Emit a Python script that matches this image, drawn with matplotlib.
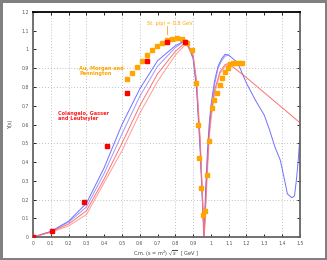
import numpy as np
from matplotlib import pyplot as plt

# Colangelo, Gasser and Leutwyler (red squares)
cgl_x = [0.0, 0.107, 0.287, 0.415, 0.53, 0.64, 0.753, 0.855]
cgl_y = [0.0, 0.03, 0.187, 0.485, 0.77, 0.94, 1.04, 1.04]

# Au, Morgan and Pennington (orange squares)
amp_x = [0.528, 0.556, 0.584, 0.612, 0.640, 0.669, 0.697, 0.725, 0.753, 0.781,
         0.809, 0.837, 0.865, 0.893, 0.916, 0.928, 0.935, 0.945, 0.955,
         0.968, 0.978, 0.989, 1.006, 1.02, 1.035, 1.05, 1.065, 1.08, 1.095,
         1.11, 1.125, 1.14, 1.157, 1.174]
amp_y = [0.843, 0.875, 0.907, 0.939, 0.971, 0.997, 1.019, 1.035, 1.051, 1.056,
         1.061, 1.056, 1.035, 0.997, 0.82, 0.60, 0.42, 0.26, 0.12,
         0.14, 0.33, 0.51, 0.69, 0.73, 0.77, 0.81, 0.85, 0.88, 0.90,
         0.92, 0.93, 0.93, 0.93, 0.93]

# model curves
blue1_x = [0, 0.1, 0.2, 0.3, 0.4, 0.5, 0.6, 0.7, 0.8, 0.86, 0.9, 0.92, 0.94, 0.955, 0.96,
           0.97, 0.98, 0.99, 1.0, 1.02, 1.04, 1.06, 1.08, 1.1, 1.15, 1.2, 1.25, 1.3, 1.33,
           1.36, 1.39, 1.415, 1.43, 1.455, 1.47, 1.48, 1.49, 1.5]
blue1_y = [0, 0.03, 0.085, 0.18, 0.37, 0.60, 0.79, 0.94, 1.02, 1.05, 0.95, 0.78, 0.45, 0.12, 0.0,
           0.25, 0.45, 0.6, 0.7, 0.83, 0.91, 0.95, 0.975, 0.97, 0.93, 0.82, 0.73, 0.65, 0.57,
           0.48, 0.41, 0.30, 0.23, 0.21, 0.22, 0.30, 0.40, 0.53]
blue2_x = [0, 0.1, 0.2, 0.3, 0.4, 0.5, 0.6, 0.7, 0.8, 0.86, 0.9, 0.92, 0.94, 0.955, 0.962,
           0.972, 0.982, 0.99, 1.0, 1.02, 1.04, 1.06, 1.08, 1.1]
blue2_y = [0, 0.03, 0.08, 0.16, 0.34, 0.55, 0.75, 0.91, 1.01, 1.05, 0.96, 0.8, 0.48, 0.14, 0.0,
           0.22, 0.42, 0.56, 0.67, 0.81, 0.9, 0.94, 0.965, 0.97]
red1_x = [0, 0.1, 0.2, 0.3, 0.4, 0.5, 0.6, 0.7, 0.8, 0.86, 0.9, 0.92, 0.94, 0.955, 0.962,
          0.975, 0.99, 1.0, 1.02, 1.05, 1.08, 1.1, 1.2, 1.3, 1.4, 1.5]
red1_y = [0, 0.028, 0.07, 0.14, 0.31, 0.50, 0.70, 0.87, 0.99, 1.04, 0.97, 0.82, 0.5, 0.15, 0.0,
          0.3, 0.55, 0.65, 0.78, 0.88, 0.92, 0.925, 0.85, 0.77, 0.69, 0.61]
red2_x = [0, 0.1, 0.2, 0.3, 0.4, 0.5, 0.6, 0.7, 0.8, 0.86, 0.9, 0.92, 0.94, 0.955, 0.963,
          0.978, 0.99, 1.0, 1.02, 1.05, 1.08, 1.1]
red2_y = [0, 0.025, 0.06, 0.12, 0.29, 0.46, 0.66, 0.83, 0.97, 1.03, 0.97, 0.83, 0.52, 0.16, 0.0,
          0.3, 0.52, 0.62, 0.76, 0.87, 0.91, 0.92]

xticks = [round(0.1 * i, 1) for i in range(16)]
yticks = [round(0.1 * i, 1) for i in range(13)]
xgrid = [0.1, 0.2, 0.3, 0.5, 0.6, 0.8, 0.9, 1.1, 1.2, 1.4]
ygrid = [0.2, 0.5, 0.8, 0.9]


def fmt(v):
    return "%g" % v


fig = plt.figure(figsize=(3.27, 2.6), dpi=100)
fig.patch.set_edgecolor("#808080")
fig.patch.set_linewidth(2.5)
ax = fig.add_axes([0.101, 0.088, 0.816, 0.866])

for g in xgrid:
    ax.axvline(g, color="#aaaaaa", lw=0.6, ls=(0, (1, 2.5)), zorder=0)
for g in ygrid:
    ax.axhline(g, color="#aaaaaa", lw=0.6, ls=(0, (1, 2.5)), zorder=0)

ax.plot(blue1_x, blue1_y, color="#4d4dff", lw=0.7, alpha=0.8)
ax.plot(blue2_x, blue2_y, color="#8080ff", lw=0.7, alpha=0.8)
ax.plot(red1_x, red1_y, color="#ff4d4d", lw=0.7, alpha=0.8)
ax.plot(red2_x, red2_y, color="#ff8080", lw=0.7, alpha=0.8)

ax.plot(amp_x, amp_y, ls="none", marker="s", ms=3.2, color="#ffa500", zorder=4)
ax.plot(cgl_x, cgl_y, ls="none", marker="s", ms=3.4, color="#ff0000", zorder=5)

ax.text(0.14, 0.67, "Colangelo, Gasser\nand Leutwyler", color="#ff2020",
        fontsize=3.6, fontweight="bold", va="top", linespacing=1.0)
ax.text(0.26, 0.91, "Au, Morgan and\nPennington", color="#ffa500",
        fontsize=3.6, fontweight="bold", va="top", linespacing=1.0)
ax.text(0.77, 1.14, "St. pipi = 0.8 GeV", color="#ffa500", fontsize=3.6,
        ha="center", va="center")
ax.plot([0.753, 0.753], [1.125, 1.08], color="#ffa500", lw=0.6)

ax.set_xlim(0, 1.5)
ax.set_ylim(0, 1.2)
ax.set_xticks(xticks)
ax.set_xticklabels([fmt(v) for v in xticks])
ax.set_yticks(yticks)
ax.set_yticklabels([fmt(v) for v in yticks])
ax.tick_params(direction="in", length=2.5, width=0.6, labelsize=3.3,
               labelcolor="#555555", top=True, right=True, pad=3)
ax.set_xlabel("C.m. (s = m$^2$) $\\sqrt{s}$   [ GeV ]", fontsize=3.6,
              color="#444444", labelpad=2)
ax.set_ylabel("Y(s)", fontsize=3.6, color="#444444", labelpad=6)

for side in ["left", "bottom", "right"]:
    ax.spines[side].set_color("#666666")
    ax.spines[side].set_linewidth(1.3)
ax.spines["top"].set_color("black")
ax.spines["top"].set_linewidth(1.3)

plt.savefig("out.png", dpi=100)
